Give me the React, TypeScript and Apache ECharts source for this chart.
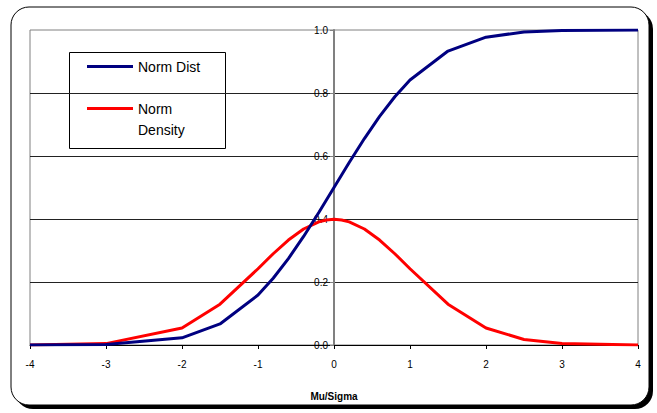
import React, { useEffect, useRef } from "react";
import * as echarts from "echarts";

const xValues = [-4, -3, -2, -1.5, -1, -0.8, -0.6, -0.4, -0.2, -0.1, 0, 0.1, 0.2, 0.4, 0.6, 0.8, 1, 1.5, 2, 2.5, 3, 4];
const normDist = [0.0, 0.0013, 0.0228, 0.0668, 0.1587, 0.2119, 0.2743, 0.3446, 0.4207, 0.4602, 0.5, 0.5398, 0.5793, 0.6554, 0.7257, 0.7881, 0.8413, 0.9332, 0.9772, 0.9938, 0.9987, 1.0];
const normDensity = [0.0001, 0.0044, 0.054, 0.1295, 0.242, 0.2897, 0.3332, 0.3683, 0.391, 0.397, 0.3989, 0.397, 0.391, 0.3683, 0.3332, 0.2897, 0.242, 0.1295, 0.054, 0.0175, 0.0044, 0.0001];
const seriesNames = ["Norm Dist", "Norm Density"];
const seriesColors = ["#000080", "#FF0000"];

const FONT = "'Liberation Sans', Arial, sans-serif";

export default function App() {
  const ref = useRef<HTMLDivElement>(null);
  useEffect(() => {
    if (!ref.current) return;
    const chart = echarts.init(ref.current, null, { renderer: "svg" });
    const pairs = (ys: number[]) => xValues.map((x, i) => [x, ys[i]]);
    chart.setOption({
      animation: false,
      backgroundColor: "#ffffff",
      textStyle: { fontFamily: FONT },
      grid: {
        left: 30,
        right: 19,
        top: 30,
        bottom: 68,
        show: true,
        borderColor: "#808080",
        borderWidth: 1,
        backgroundColor: "transparent",
      },
      xAxis: {
        type: "value",
        min: -4,
        max: 4,
        interval: 1,
        name: "Mu/Sigma",
        nameLocation: "middle",
        nameGap: 46,
        nameTextStyle: { fontFamily: FONT, fontSize: 10, fontWeight: "bold", color: "#000" },
        axisLine: { show: true, onZero: false, lineStyle: { color: "#000", width: 1 } },
        axisTick: { show: true, length: 4, inside: false, lineStyle: { color: "#000" } },
        axisLabel: { fontFamily: FONT, fontSize: 10, color: "#000", margin: 14 },
        splitLine: { show: false },
      },
      yAxis: {
        type: "value",
        min: 0,
        max: 1,
        interval: 0.2,
        position: "left",
        offset: -304,
        axisLine: { show: true, onZero: false, lineStyle: { color: "#808080", width: 2 } },
        axisTick: { show: true, length: 4, inside: false, lineStyle: { color: "#808080" } },
        axisLabel: {
          fontFamily: FONT,
          fontSize: 10,
          color: "#000",
          margin: 6,
          formatter: (v: number) => v.toFixed(1),
        },
        splitLine: { show: true, showMinLine: false, showMaxLine: false, lineStyle: { color: "#222", width: 1 } },
      },
      series: [
        {
          name: seriesNames[0],
          type: "line",
          data: pairs(normDist),
          showSymbol: false,
          symbol: "none",
          lineStyle: { color: seriesColors[0], width: 3 },
          itemStyle: { color: seriesColors[0] },
          z: 3,
        },
        {
          name: seriesNames[1],
          type: "line",
          data: pairs(normDensity),
          showSymbol: false,
          symbol: "none",
          lineStyle: { color: seriesColors[1], width: 3 },
          itemStyle: { color: seriesColors[1] },
          z: 2,
        },
      ],
      graphic: [
        {
          type: "rect",
          z: -100,
          silent: true,
          shape: { x: 15, y: 11, width: 638, height: 398, r: 18 },
          style: { fill: "#000" },
        },
        {
          type: "rect",
          z: -99,
          silent: true,
          shape: { x: 11, y: 7, width: 638, height: 398, r: 18 },
          style: { fill: "#fff", stroke: "#000", lineWidth: 1 },
        },
        {
          type: "group",
          z: 100,
          children: [
            {
              type: "rect",
              shape: { x: 69.5, y: 52.5, width: 156, height: 96 },
              style: { fill: "#fff", stroke: "#000", lineWidth: 1 },
            },
            {
              type: "line",
              shape: { x1: 87, y1: 66.5, x2: 133, y2: 66.5 },
              style: { stroke: seriesColors[0], lineWidth: 3 },
            },
            {
              type: "text",
              style: {
                x: 138,
                y: 66.5,
                text: seriesNames[0],
                fontFamily: FONT,
                fontSize: 14,
                fill: "#000",
                verticalAlign: "middle",
                align: "left",
              },
            },
            {
              type: "line",
              shape: { x1: 87, y1: 108.5, x2: 133, y2: 108.5 },
              style: { stroke: seriesColors[1], lineWidth: 3 },
            },
            {
              type: "text",
              style: {
                x: 138,
                y: 108.5,
                text: "Norm",
                fontFamily: FONT,
                fontSize: 14,
                fill: "#000",
                verticalAlign: "middle",
                align: "left",
              },
            },
            {
              type: "text",
              style: {
                x: 138,
                y: 129.5,
                text: "Density",
                fontFamily: FONT,
                fontSize: 14,
                fill: "#000",
                verticalAlign: "middle",
                align: "left",
              },
            },
          ],
        },
      ],
    });
    return () => chart.dispose();
  }, []);
  return (
    <div
      ref={ref}
      style={{ position: "fixed", left: 0, top: 0, width: 657, height: 413 }}
    />
  );
}
